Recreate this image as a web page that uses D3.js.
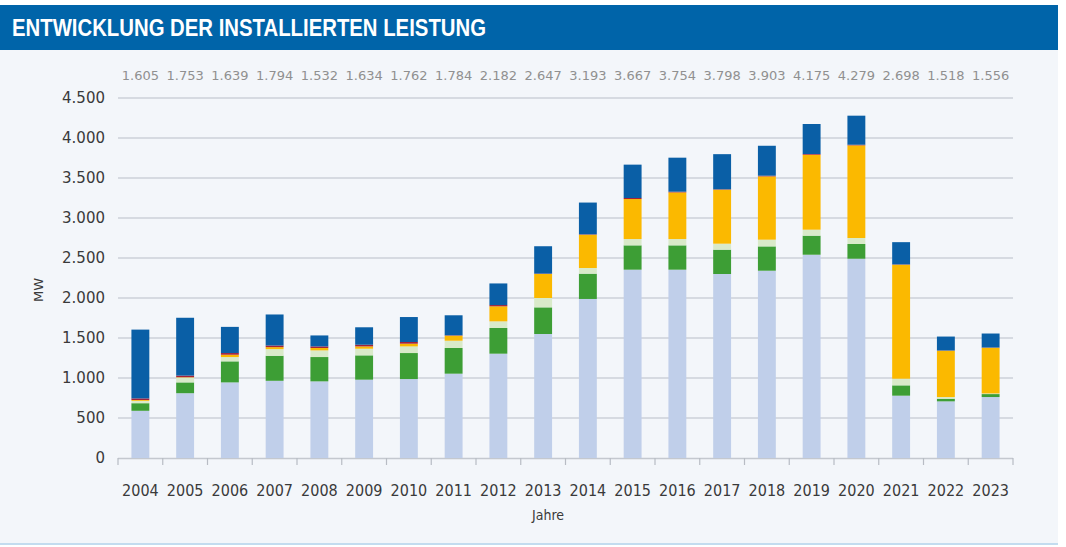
<!DOCTYPE html>
<meta charset="utf-8">

<head>
  <title>Entwicklung der installierten Leistung</title>
</head>

<style>
  body { margin: 0; background: #fff; }
  text { font-family: "DejaVu Sans", sans-serif; }
</style>

<body>
  <svg width="1066" height="547"></svg>

  <script src="https://cdn.jsdelivr.net/npm/d3@7"></script>
  <script>
    var years = ['2004', '2005', '2006', '2007', '2008', '2009', '2010', '2011', '2012', '2013',
      '2014', '2015', '2016', '2017', '2018', '2019', '2020', '2021', '2022', '2023'];

    // Segmente von unten nach oben
    var hellblau = [590, 810, 945, 965, 958, 979, 987, 1054, 1304, 1550, 1988, 2354, 2354, 2300, 2341, 2541, 2491, 779, 708, 762];
    var gruen = [95, 135, 263, 313, 304, 304, 325, 321, 321, 333, 316, 304, 304, 304, 304, 238, 184, 129, 33, 37];
    var hellgruen = [30, 60, 54, 83, 83, 83, 83, 91, 83, 117, 71, 79, 79, 75, 84, 75, 75, 83, 21, 8];
    var gelb = [10, 5, 29, 25, 30, 29, 34, 63, 188, 300, 416, 500, 583, 675, 791, 937, 1158, 1425, 579, 571];
    var rot = [20, 20, 21, 20, 20, 21, 21, 5, 16, 5, 5, 13, 9, 5, 9, 9, 8, 4, 3, 3];
    var dunkelblau = [860, 723, 327, 388, 137, 218, 312, 250, 270, 342, 397, 417, 425, 439, 374, 375, 363, 278, 174, 175];

    var totals = [1605, 1753, 1639, 1794, 1532, 1634, 1762, 1784, 2182, 2647, 3193, 3667, 3754, 3798, 3903, 4175, 4279, 2698, 1518, 1556];
    var yTicks = [0, 500, 1000, 1500, 2000, 2500, 3000, 3500, 4000, 4500];

    var keys = ['hellblau', 'gruen', 'hellgruen', 'gelb', 'rot', 'dunkelblau'];
    var colors = ['#c0cfea', '#3d9e35', '#d9eac9', '#fbb900', '#a3223a', '#0a5fa6'];

    var data = years.map(function (y, i) {
      return {
        year: y, hellblau: hellblau[i], gruen: gruen[i], hellgruen: hellgruen[i],
        gelb: gelb[i], rot: rot[i], dunkelblau: dunkelblau[i]
      };
    });

    var de = d3.formatLocale({ decimal: ',', thousands: '.', grouping: [3], currency: ['', ' €'] });
    var fmt = de.format(',d');

    var svg = d3.select('svg');

    // Hintergrund
    svg.append('rect').attr('x', 0).attr('y', 50).attr('width', 1058).attr('height', 494).attr('fill', '#f3f6fa');
    svg.append('rect').attr('x', 0).attr('y', 543).attr('width', 1058).attr('height', 2).attr('fill', '#c3dcef');

    // Kopfzeile
    svg.append('rect').attr('x', 0).attr('y', 5).attr('width', 1058).attr('height', 45).attr('fill', '#0064a9');
    svg.append('text')
      .attr('x', 12).attr('y', 36)
      .attr('fill', '#fff')
      .style('font-family', '"Liberation Sans", Arial, sans-serif')
      .style('font-weight', 'bold')
      .style('font-size', '24px')
      .attr('textLength', 474)
      .attr('lengthAdjust', 'spacingAndGlyphs')
      .text('ENTWICKLUNG DER INSTALLIERTEN LEISTUNG');

    var x = d3.scaleBand().domain(years).range([118, 1013]).paddingInner(0.6).paddingOuter(0.3);
    var y = d3.scaleLinear().domain([0, 4500]).range([458, 98]);

    // Gitterlinien
    svg.append('g')
      .selectAll('line')
      .data(yTicks.filter(function (d) { return d > 0; }))
      .enter()
      .append('line')
      .attr('x1', 118).attr('x2', 1013)
      .attr('y1', function (d) { return y(d); })
      .attr('y2', function (d) { return y(d); })
      .attr('stroke', '#cdd1d8')
      .attr('stroke-width', 1.5);

    // y-Achse Beschriftung
    svg.append('g')
      .selectAll('text')
      .data(yTicks)
      .enter()
      .append('text')
      .attr('x', 105)
      .attr('y', function (d) { return y(d); })
      .attr('dy', '0.36em')
      .attr('text-anchor', 'end')
      .attr('fill', '#3a3a3a')
      .style('font-size', '15px')
      .text(function (d) { return fmt(d); });

    // x-Achse
    var step = x.step();
    var edges = d3.range(years.length + 1).map(function (i) { return 118 + i * step; });
    var xAxis = svg.append('g');
    xAxis.append('line')
      .attr('x1', 118).attr('x2', 1013)
      .attr('y1', 458.5).attr('y2', 458.5)
      .attr('stroke', '#c4c8cf').attr('stroke-width', 1.5);
    xAxis.selectAll('.tick')
      .data(edges)
      .enter()
      .append('line')
      .attr('class', 'tick')
      .attr('x1', function (d) { return d; })
      .attr('x2', function (d) { return d; })
      .attr('y1', 458).attr('y2', 465)
      .attr('stroke', '#b8bcc4').attr('stroke-width', 1.2);
    xAxis.selectAll('text')
      .data(years)
      .enter()
      .append('text')
      .attr('x', function (d) { return x(d) + x.bandwidth() / 2; })
      .attr('y', 496)
      .attr('text-anchor', 'middle')
      .attr('fill', '#3a3a3a')
      .style('font-family', '"DejaVu Sans Condensed", "DejaVu Sans", sans-serif')
      .style('font-size', '16px')
      .text(function (d) { return d; });

    // Summen oben
    svg.append('g')
      .selectAll('text')
      .data(totals)
      .enter()
      .append('text')
      .attr('x', function (d, i) { return x(years[i]) + x.bandwidth() / 2; })
      .attr('y', 80)
      .attr('text-anchor', 'middle')
      .attr('fill', '#909090')
      .style('font-size', '13px')
      .text(function (d) { return fmt(d); });

    // Achsentitel
    svg.append('text')
      .attr('x', 548).attr('y', 520)
      .attr('text-anchor', 'middle')
      .attr('fill', '#3a3a3a')
      .style('font-family', '"DejaVu Sans Condensed", "DejaVu Sans", sans-serif')
      .style('font-size', '14px')
      .text('Jahre');
    svg.append('text')
      .attr('transform', 'translate(43, 290) rotate(-90)')
      .attr('text-anchor', 'middle')
      .attr('fill', '#3a3a3a')
      .style('font-size', '13px')
      .text('MW');

    // Balken
    var stackedSeries = d3.stack().keys(keys)(data);
    svg.append('g')
      .selectAll('g')
      .data(stackedSeries)
      .enter()
      .append('g')
      .attr('fill', function (d, i) { return colors[i]; })
      .selectAll('rect')
      .data(function (d) { return d; })
      .enter()
      .append('rect')
      .attr('x', function (d) { return x(d.data.year); })
      .attr('width', x.bandwidth())
      .attr('y', function (d) { return y(d[1]); })
      .attr('height', function (d) { return y(d[0]) - y(d[1]); });
  </script>
</body>

</html>
